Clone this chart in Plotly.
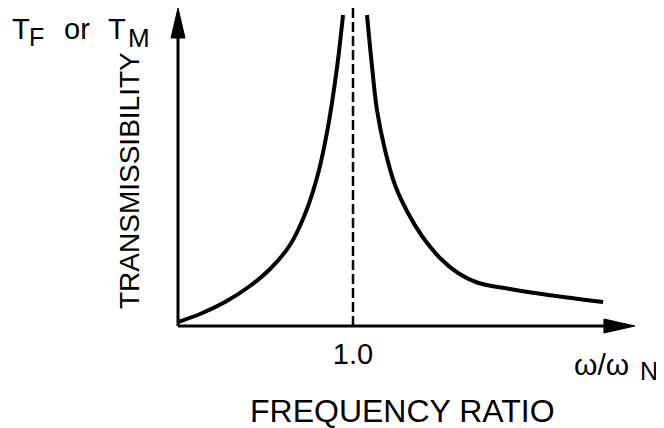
import plotly.graph_objects as go

# ---- data (schematic transmissibility curve) ----
FREQ_LEFT = [0.000, 0.126, 0.269, 0.411, 0.526, 0.640, 0.726, 0.800, 0.857, 0.909, 0.943]
T_LEFT = [0.4, 1.2, 2.4, 4.0, 5.7, 8.1, 11.2, 15.2, 19.9, 25.9, 31.1]
FREQ_RIGHT = [1.080, 1.109, 1.137, 1.183, 1.240, 1.314, 1.394, 1.497, 1.600, 1.709, 1.897, 2.126, 2.429]
T_RIGHT = [31.1, 25.9, 21.6, 17.6, 14.1, 11.3, 9.0, 6.8, 5.3, 4.35, 3.7, 3.08, 2.4]
RESONANCE = 1.0
TICK_VALS = [1.0]
TICK_TEXT = ["1.0"]
X_AXIS_END = 2.611
Y_AXIS_END = 31.8

FONT = "Liberation Sans"
BLACK = "#000000"

fig = go.Figure()
fig.add_trace(go.Scatter(x=FREQ_LEFT, y=T_LEFT, mode="lines",
                         line=dict(color=BLACK, width=4, shape="spline", smoothing=1),
                         hoverinfo="skip", showlegend=False))
fig.add_trace(go.Scatter(x=FREQ_RIGHT, y=T_RIGHT, mode="lines",
                         line=dict(color=BLACK, width=4, shape="spline", smoothing=1),
                         hoverinfo="skip", showlegend=False))

shapes = [
    # x axis line
    dict(type="line", xref="x", yref="y", x0=0, y0=0, x1=X_AXIS_END - 0.17, y1=0,
         line=dict(color=BLACK, width=3)),
    # y axis line
    dict(type="line", xref="x", yref="y", x0=0, y0=0, x1=0, y1=Y_AXIS_END - 2.8,
         line=dict(color=BLACK, width=3)),
    # resonance dashed line
    dict(type="line", xref="x", yref="y", x0=RESONANCE, y0=0, x1=RESONANCE, y1=Y_AXIS_END,
         line=dict(color=BLACK, width=2.5, dash="10px,4px")),
    # arrowheads
    dict(type="path", xref="x", yref="y", xsizemode="pixel", ysizemode="pixel",
         xanchor=X_AXIS_END, yanchor=0, path="M0,0 L-31,7 L-31,-7 Z",
         fillcolor=BLACK, line=dict(color=BLACK, width=1)),
    dict(type="path", xref="x", yref="y", xsizemode="pixel", ysizemode="pixel",
         xanchor=0, yanchor=Y_AXIS_END, path="M0,0 L-7,-30 L7,-30 Z",
         fillcolor=BLACK, line=dict(color=BLACK, width=1)),
]

def ann(text, x, y, size, xanchor="left", angle=0):
    return dict(text=text, x=x, y=y, xref="x", yref="y", showarrow=False,
                xanchor=xanchor, yanchor="middle", textangle=angle,
                font=dict(family=FONT, size=size, color=BLACK))

annotations = [
    ann("TRANSMISSIBILITY", -0.28, 14.5, 28, xanchor="center", angle=-90),
    ann("FREQUENCY RATIO", 1.28, -8.5, 32, xanchor="center"),
    ann("ω/ω", 2.251, -3.86, 30),
    ann("N", 2.629, -4.53, 25),
    ann("T", -0.962, 29.75, 29),
    ann("F", -0.865, 28.93, 25),
    ann("or", -0.665, 29.74, 29),
    ann("T", -0.413, 29.75, 29),
    ann("M", -0.297, 28.77, 26),
]

fig.update_layout(
    width=656, height=420,
    margin=dict(l=0, r=0, t=0, b=0),
    paper_bgcolor="white", plot_bgcolor="white",
    shapes=shapes, annotations=annotations,
    xaxis=dict(range=[-0.9714, 2.7771], tickvals=TICK_VALS, ticktext=TICK_TEXT,
               ticks="", showgrid=False, zeroline=False, showline=False,
               anchor="free", position=0.2429, ticklabelstandoff=8,
               tickfont=dict(family=FONT, size=29, color=BLACK)),
    yaxis=dict(range=[-10.2, 31.8], visible=False, showgrid=False, zeroline=False),
)

fig.write_html("out.html")
